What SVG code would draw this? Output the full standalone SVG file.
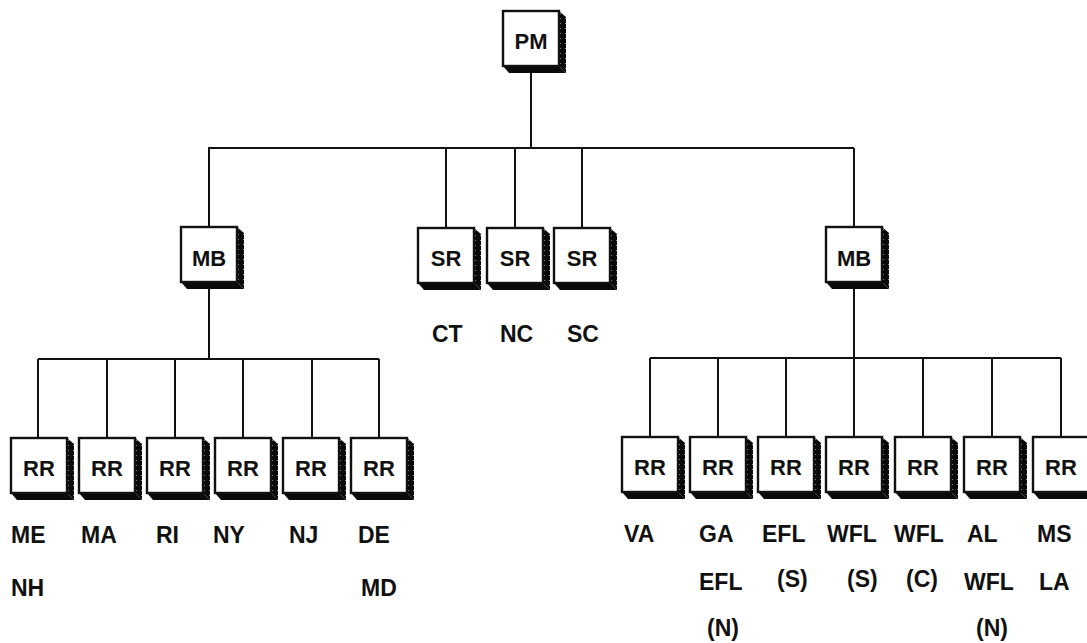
<svg xmlns="http://www.w3.org/2000/svg" width="1087" height="643" viewBox="0 0 1087 643">
<defs>
<pattern id="stip" width="5" height="5" patternUnits="userSpaceOnUse">
<rect width="5" height="5" fill="#0a0a0a"/>
<rect x="2" y="2" width="1" height="1" fill="#999"/>
</pattern>
<g id="box">
<polygon points="56,0 63,6 63,62 56,55" fill="url(#stip)"/>
<polygon points="0,55 56,55 63,62 6,62" fill="#0a0a0a"/>
<rect x="0" y="0" width="56" height="55" fill="#fff" stroke="#111" stroke-width="2.4"/>
</g>
</defs>
<style>
.t{font-family:"Liberation Sans",Arial,sans-serif;font-weight:bold;font-size:22px;fill:#111;text-anchor:middle}
.l{font-family:"Liberation Sans",Arial,sans-serif;font-weight:bold;font-size:23px;fill:#111}
.c{fill:none;stroke:#111;stroke-width:2}
</style>
<rect width="1087" height="643" fill="#fff"/>
<g id="connectors" class="c">
<path d="M531 65V148M208 148H854M209 148V227M446 148V228M515 148V228M582 148V228M854 148V227"/>
<path d="M209 282V359M38 359H379M38 359V438M107 359V438M175 359V438M243 359V438M312 359V438M379 359V438"/>
<path d="M854 282V358M650 358H1061M650 358V437M718 358V437M786 358V437M854 358V437M923 358V437M992 358V437M1061 358V437"/>
</g>
<g id="pm"><use href="#box" x="503" y="11"/><text class="t" x="531" y="49">PM</text></g>
<g id="mb1"><use href="#box" x="181" y="227"/><text class="t" x="209" y="266">MB</text></g>
<g id="mb2"><use href="#box" x="826" y="227"/><text class="t" x="854" y="266">MB</text></g>
<g id="sr1"><use href="#box" x="418" y="228"/><text class="t" x="446" y="266">SR</text><text class="l" x="432" y="342">CT</text></g>
<g id="sr2"><use href="#box" x="487" y="228"/><text class="t" x="515" y="266">SR</text><text class="l" x="500" y="342">NC</text></g>
<g id="sr3"><use href="#box" x="554" y="228"/><text class="t" x="582" y="266">SR</text><text class="l" x="567" y="342">SC</text></g>
<g id="rr1"><use href="#box" x="11" y="438"/><text class="t" x="39" y="476">RR</text><text class="l" x="11" y="543">ME</text><text class="l" x="11" y="596">NH</text></g>
<g id="rr2"><use href="#box" x="79" y="438"/><text class="t" x="107" y="476">RR</text><text class="l" x="81" y="543">MA</text></g>
<g id="rr3"><use href="#box" x="147" y="438"/><text class="t" x="175" y="476">RR</text><text class="l" x="156" y="543">RI</text></g>
<g id="rr4"><use href="#box" x="215" y="438"/><text class="t" x="243" y="476">RR</text><text class="l" x="213" y="543">NY</text></g>
<g id="rr5"><use href="#box" x="283" y="438"/><text class="t" x="311" y="476">RR</text><text class="l" x="289" y="543">NJ</text></g>
<g id="rr6"><use href="#box" x="351" y="438"/><text class="t" x="379" y="476">RR</text><text class="l" x="358" y="543">DE</text><text class="l" x="361" y="596">MD</text></g>
<g id="rr7"><use href="#box" x="622" y="437"/><text class="t" x="650" y="475">RR</text><text class="l" x="624" y="542">VA</text></g>
<g id="rr8"><use href="#box" x="690" y="437"/><text class="t" x="718" y="475">RR</text><text class="l" x="699" y="542">GA</text><text class="l" x="699" y="590">EFL</text><text class="l" x="707" y="636">(N)</text></g>
<g id="rr9"><use href="#box" x="758" y="437"/><text class="t" x="786" y="475">RR</text><text class="l" x="762" y="542">EFL</text><text class="l" x="777" y="587">(S)</text></g>
<g id="rr10"><use href="#box" x="826" y="437"/><text class="t" x="854" y="475">RR</text><text class="l" x="827" y="542">WFL</text><text class="l" x="847" y="587">(S)</text></g>
<g id="rr11"><use href="#box" x="895" y="437"/><text class="t" x="923" y="475">RR</text><text class="l" x="894" y="542">WFL</text><text class="l" x="906" y="587">(C)</text></g>
<g id="rr12"><use href="#box" x="964" y="437"/><text class="t" x="992" y="475">RR</text><text class="l" x="967" y="542">AL</text><text class="l" x="964" y="590">WFL</text><text class="l" x="976" y="636">(N)</text></g>
<g id="rr13"><use href="#box" x="1033" y="437"/><text class="t" x="1061" y="475">RR</text><text class="l" x="1037" y="542">MS</text><text class="l" x="1039" y="590">LA</text></g>
</svg>
